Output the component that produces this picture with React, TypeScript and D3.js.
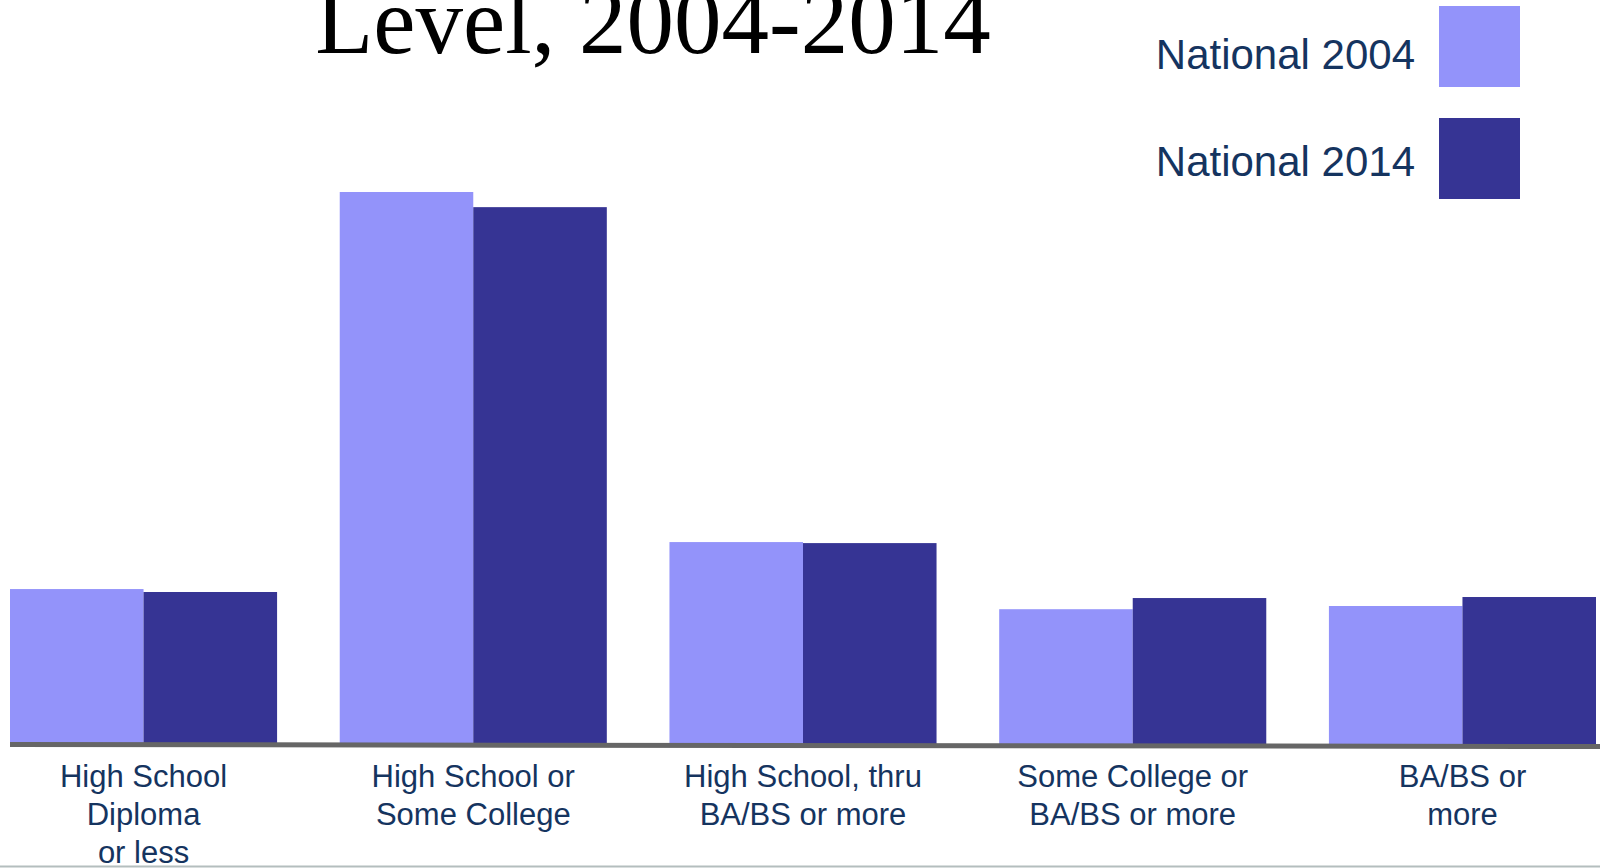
import * as d3 from 'd3';

const categories = [
  ['High School', 'Diploma', 'or less'],
  ['High School or', 'Some College'],
  ['High School, thru', 'BA/BS or more'],
  ['Some College or', 'BA/BS or more'],
  ['BA/BS or', 'more'],
];
const seriesNames = ['National 2004', 'National 2014'];
const values2004 = [12.07, 43.0, 15.73, 10.5, 10.75];
const values2014 = [11.84, 41.82, 15.65, 11.37, 11.45];
const titleLine = 'Level, 2004-2014';

const colors = ['#9393fa', '#363494'];
const textColor = '#15345f';

export default function App() {
  const width = 1600;
  const height = 868;
  const baseline = 744;

  const keys = categories.map((c) => c.join(' '));
  const x = d3.scaleBand<string>().domain(keys).range([10, 1596]).paddingInner(0.19).paddingOuter(0);
  const x1 = d3.scaleBand<string>().domain(seriesNames).range([0, x.bandwidth()]).padding(0);
  const y = d3.scaleLinear().domain([0, 43]).range([baseline, 192]);

  const series = [values2004, values2014];
  const sans = '"Liberation Sans", Arial, sans-serif';

  return (
    <svg
      width={width}
      height={height}
      style={{ position: 'absolute', left: 0, top: 0, background: '#fff' }}
    >
      {/* title, top line is cut off in the source slide */}
      <text
        x={653}
        y={53}
        textAnchor="middle"
        fontFamily='"Liberation Serif", "Times New Roman", serif'
        fontSize={95}
        fill="#000"
      >
        {titleLine}
      </text>

      {/* bars */}
      {keys.map((k, i) => (
        <g key={k} transform={`translate(${x(k)},0)`}>
          {seriesNames.map((s, j) => (
            <rect
              key={s}
              x={x1(s)}
              y={y(series[j][i])}
              width={x1.bandwidth()}
              height={baseline - y(series[j][i])}
              fill={colors[j]}
            />
          ))}
        </g>
      ))}

      {/* baseline */}
      <line
        x1={x.range()[0]}
        x2={width}
        y1={baseline + 0.5}
        y2={baseline + 2.5}
        stroke="#666666"
        strokeWidth={5}
      />

      {/* category labels */}
      {categories.map((lines, i) => {
        const cx = (x(keys[i]) || 0) + x.bandwidth() / 2;
        return (
          <text
            key={i}
            x={cx}
            y={787}
            textAnchor="middle"
            fontFamily={sans}
            fontSize={31}
            fill={textColor}
          >
            {lines.map((l, li) => (
              <tspan key={li} x={cx} dy={li === 0 ? 0 : 38}>
                {l}
              </tspan>
            ))}
          </text>
        );
      })}

      {/* legend */}
      {seriesNames.map((s, j) => (
        <g key={s}>
          <text x={1415} y={69 + j * 107} textAnchor="end" fontFamily={sans} fontSize={42} fill={textColor}>
            {s}
          </text>
          <rect x={1439} y={6 + j * 112} width={81} height={81} fill={colors[j]} />
        </g>
      ))}

      {/* slide bottom edge */}
      <line x1={0} x2={width} y1={866.5} y2={866.5} stroke="#b4bebe" strokeWidth={2} />
    </svg>
  );
}
